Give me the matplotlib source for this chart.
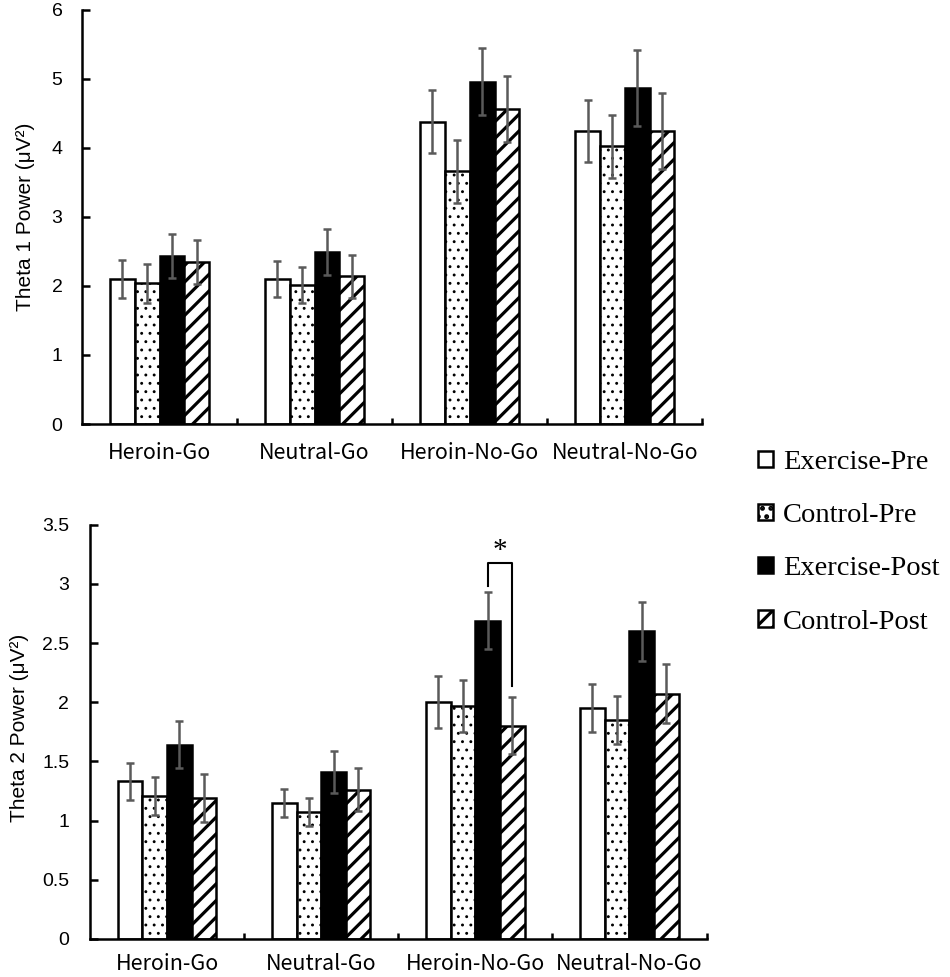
import matplotlib
matplotlib.use('Agg')
import matplotlib.pyplot as plt
import numpy as np

# datos
categorias = ["Heroin-Go", "Neutral-Go", "Heroin-No-Go", "Neutral-No-Go"]
grupos = ["Exercise-Pre", "Control-Pre", "Exercise-Post", "Control-Post"]

theta1 = [
    [2.10, 2.10, 4.38, 4.25],   # Exercise-Pre
    [2.04, 2.01, 3.66, 4.02],   # Control-Pre
    [2.43, 2.49, 4.96, 4.87],   # Exercise-Post
    [2.35, 2.14, 4.56, 4.25],   # Control-Post
]
theta1_err = [
    [0.28, 0.26, 0.46, 0.45],
    [0.28, 0.26, 0.46, 0.45],
    [0.32, 0.33, 0.48, 0.55],
    [0.32, 0.31, 0.48, 0.55],
]

theta2 = [
    [1.33, 1.15, 2.00, 1.95],
    [1.21, 1.07, 1.97, 1.85],
    [1.64, 1.41, 2.69, 2.60],
    [1.19, 1.26, 1.80, 2.07],
]
theta2_err = [
    [0.16, 0.12, 0.22, 0.20],
    [0.16, 0.12, 0.22, 0.20],
    [0.20, 0.18, 0.24, 0.25],
    [0.20, 0.18, 0.24, 0.25],
]

fig = plt.figure(figsize=(9.5, 9.77), dpi=100)
ax1 = fig.add_axes([0.0863, 0.566, 0.653, 0.424])
ax2 = fig.add_axes([0.0947, 0.039, 0.649, 0.424])

estilos = [
    dict(color='white', hatch=None, hlw=1.0),
    dict(color='white', hatch='..', hlw=0.9),
    dict(color='black', hatch=None, hlw=1.0),
    dict(color='white', hatch='//', hlw=2.3),
]
offsets = [-0.24, -0.08, 0.08, 0.24]
ancho = 0.16
x = np.arange(len(categorias))


def dibujar(ax, valores, errores, ymax, yticks, ylabels, pad, xpad):
    handles = []
    for i in range(4):
        plt.rcParams['hatch.linewidth'] = estilos[i]['hlw']
        b = ax.bar(x + offsets[i], valores[i], ancho, color=estilos[i]['color'],
                   hatch=estilos[i]['hatch'], edgecolor='black', linewidth=1.8,
                   label=grupos[i], zorder=2)
        for p in b.patches:
            if hasattr(p, 'set_hatch_linewidth'):
                p.set_hatch_linewidth(estilos[i]['hlw'])
        ax.errorbar(x + offsets[i], valores[i], yerr=errores[i], fmt='none',
                    ecolor='#5a5a5a', elinewidth=1.8, capsize=2.6, capthick=1.8,
                    zorder=3)
        handles.append(b)
    ax.set_xlim(-0.5, 3.5)
    ax.set_ylim(0, ymax)
    ax.set_yticks(yticks)
    ax.set_yticklabels(ylabels, fontsize=14, family='Liberation Sans')
    ax.set_xticks(x)
    ax.set_xticklabels(categorias, fontsize=15.5, family='Noto Sans CJK JP')
    ax.set_xticks([0.5, 1.5, 2.5, 3.5], minor=True)
    ax.tick_params(axis='x', which='major', length=0, pad=xpad)
    ax.tick_params(axis='x', which='minor', direction='in', length=4.5, width=1.8)
    ax.tick_params(axis='y', direction='in', length=5.5, width=1.8, pad=pad)
    for s in ['top', 'right']:
        ax.spines[s].set_visible(False)
    for s in ['left', 'bottom']:
        ax.spines[s].set_linewidth(1.8)
    return handles


handles = dibujar(ax1, theta1, theta1_err, 6, range(7),
                  [str(v) for v in range(7)], 14, 13)
dibujar(ax2, theta2, theta2_err, 3.5, np.arange(0, 3.6, 0.5),
        ["0", "0.5", "1", "1.5", "2", "2.5", "3", "3.5"], 15, 10)

# corchete de significancia
xa = 2 + offsets[2]
xb = 2 + offsets[3]
ax2.plot([xa, xa, xb, xb], [2.98, 3.18, 3.18, 2.14], color='black', lw=1.5,
         zorder=4)
ax2.text((xa + xb) / 2, 3.17, "*", ha='center', va='bottom', fontsize=21,
         family='Liberation Serif')

fig.text(26 / 950, 1 - 217 / 977, "Theta 1 Power (μV²)", rotation=90,
         ha='center', va='center', fontsize=15, family='Liberation Sans')
fig.text(20 / 950, 1 - 728 / 977, "Theta 2 Power (μV²)", rotation=90,
         ha='center', va='center', fontsize=15, family='Liberation Sans')

fig.legend(handles=handles, loc='upper left',
           bbox_to_anchor=(758 / 950, 1 - 450 / 977), frameon=False,
           prop={'family': 'Liberation Serif', 'size': 20.5},
           handlelength=0.53, handleheight=0.5, handletextpad=0.35,
           labelspacing=0.99, borderpad=0, borderaxespad=0)

fig.savefig('out.png', dpi=100)
plt.close(fig)
